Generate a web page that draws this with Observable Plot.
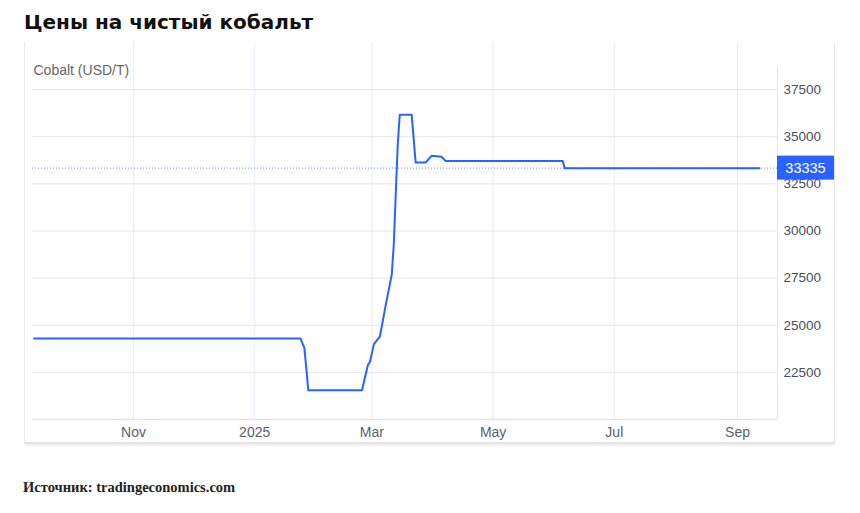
<!DOCTYPE html>
<html>
<head>
<meta charset="utf-8">
<script src="https://cdn.jsdelivr.net/npm/d3@7"></script>
<script src="https://cdn.jsdelivr.net/npm/@observablehq/plot@0.6"></script>
<style>
  html, body { margin: 0; padding: 0; background: #fff; }
  body { width: 860px; height: 513px; position: relative; overflow: hidden; }
  #title { position: absolute; left: 24px; top: 10px; font: bold 20px "DejaVu Sans", sans-serif; color: #111; white-space: nowrap; }
  #frame { position: absolute; left: 24px; top: 42px; width: 809px; height: 400px; border-left: 1px solid #ececec; border-right: 1px solid #e6e6e6; border-bottom: 2px solid #e4e4e4; box-shadow: 0 3px 2px -1px #f0f0f0; }
  #chart { position: absolute; left: 0; top: 42px; }
  #source { position: absolute; left: 23px; top: 479px; font: bold 14.5px "Liberation Serif", serif; color: #222; white-space: nowrap; }
</style>
</head>
<body>
<div id="title">Цены на чистый кобальт</div>
<div id="frame"></div>
<div id="chart"></div>
<div id="source">Источник: tradingeconomics.com</div>
<script>
// ---- data ----
const dates = [
  "2024-09-12", "2025-01-24", "2025-01-26", "2025-01-28", "2025-02-24",
  "2025-02-27", "2025-02-28", "2025-03-02", "2025-03-05", "2025-03-08",
  "2025-03-11", "2025-03-12", "2025-03-13", "2025-03-14", "2025-03-15",
  "2025-03-21", "2025-03-23", "2025-03-28", "2025-03-31", "2025-04-05",
  "2025-04-07", "2025-06-05", "2025-06-06", "2025-09-12"
];
const prices = [
  24300, 24300, 23800, 21550, 21550,
  22900, 23050, 24000, 24400, 26100,
  27700, 29300, 32000, 34600, 36170,
  36170, 33630, 33630, 33990, 33940,
  33720, 33720, 33335, 33335
];
const lastValue = 33335;
const seriesLabel = "Cobalt (USD/T)";
const yTicks = [22500, 25000, 27500, 30000, 32500, 35000, 37500];
const xTicks = ["2024-11-01", "2025-01-01", "2025-03-01", "2025-05-01", "2025-07-01", "2025-09-01"];
const xDomain = ["2024-09-11T04:00:00Z", "2025-09-21T03:00:00Z"];
const yDomain = [20000, 40000];

const data = dates.map((d, i) => ({date: new Date(d + "T00:00:00Z"), price: prices[i]}));
const xTickDates = xTicks.map(d => new Date(d + "T00:00:00Z"));
const fmtX = d => d.getUTCMonth() === 0 ? String(d.getUTCFullYear()) : d3.utcFormat("%b")(d);

const lineColor = "#2962ff";

const badge = (index, scales, values, dimensions) => {
  const y = scales.y(lastValue);
  const x0 = dimensions.width - dimensions.marginRight;
  const g = document.createElementNS("http://www.w3.org/2000/svg", "g");
  const r = document.createElementNS("http://www.w3.org/2000/svg", "rect");
  r.setAttribute("x", x0);
  r.setAttribute("y", y - 12);
  r.setAttribute("width", 57);
  r.setAttribute("height", 24);
  r.setAttribute("fill", lineColor);
  g.appendChild(r);
  const t = document.createElementNS("http://www.w3.org/2000/svg", "text");
  t.setAttribute("x", x0 + 28.5);
  t.setAttribute("y", y);
  t.setAttribute("dy", "0.36em");
  t.setAttribute("text-anchor", "middle");
  t.setAttribute("fill", "#fff");
  t.setAttribute("font-family", "'Liberation Sans', Arial, sans-serif");
  t.setAttribute("font-size", "14.5");
  t.textContent = String(lastValue);
  g.appendChild(t);
  return g;
};

const chart = Plot.plot({
  width: 860,
  height: 405,
  marginLeft: 32,
  marginRight: 83,
  marginTop: 0,
  marginBottom: 28,
  style: {fontFamily: "'Liberation Sans', Arial, sans-serif", fontSize: "14px", background: "transparent", overflow: "visible"},
  x: {type: "utc", domain: xDomain.map(d => new Date(d)), ticks: xTickDates, tickFormat: fmtX, tickSize: 0, tickPadding: 8, label: null},
  y: {domain: yDomain, ticks: yTicks, tickSize: 0, tickPadding: 6, label: null, axis: "right", tickFormat: d => String(d)},
  marks: [
    Plot.ruleX(xTickDates, {stroke: "#e9edf3", strokeWidth: 1}),
    Plot.ruleY(yTicks, {stroke: "#e6e6e6", strokeWidth: 1}),
    Plot.ruleY([yDomain[0]], {stroke: "#e4e4e4", strokeWidth: 1.5}),
    Plot.ruleX([new Date(xDomain[1])], {stroke: "#e6e6e6", strokeWidth: 1, y1: yDomain[0], y2: yDomain[1], insetBottom: -24}),
    Plot.ruleY([lastValue], {stroke: lineColor, strokeWidth: 1, strokeDasharray: "1,2", strokeOpacity: 0.7}),
    Plot.line(data, {x: "date", y: "price", stroke: lineColor, strokeWidth: 2, curve: "linear"}),
    Plot.text([seriesLabel], {frameAnchor: "top-left", dx: 1, dy: 23, fill: "#666", fontSize: 14}),
    badge
  ]
});
chart.querySelectorAll("[aria-label='x-axis tick label'] text").forEach(t => t.setAttribute("fill", "#5a5f6a"));
chart.querySelectorAll("[aria-label='y-axis tick label'] text").forEach(t => { t.setAttribute("fill", "#4a4f5a"); t.setAttribute("font-size", "13.5"); });
document.getElementById("chart").appendChild(chart);
</script>
</body>
</html>
